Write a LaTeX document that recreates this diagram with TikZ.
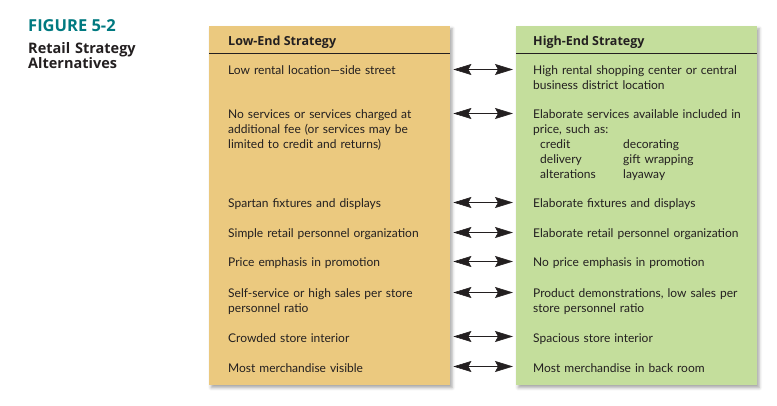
\documentclass[tikz,border=0pt]{standalone}
\usepackage{fontspec}
\setmainfont{Lato}
\newfontfamily\headfont{Open Sans}
\usetikzlibrary{arrows.meta, positioning, calc, shadows.blur}
\definecolor{lowtan}{RGB}{235,201,127}
\definecolor{highgreen}{RGB}{196,222,156}
\definecolor{figteal}{RGB}{0,121,128}
\definecolor{inkgray}{RGB}{35,31,32}

\tikzset{
  panel/.style={anchor=north west, minimum width=241pt, minimum height=359pt, inner sep=0pt,
    blur shadow={shadow xshift=2pt, shadow yshift=-2.5pt, shadow blur radius=3pt, shadow opacity=35}},
  rowtext/.style={anchor=base west, inner sep=0pt, align=left, text width=219pt,
    font=\fontsize{12}{15}\selectfont, text=inkgray},
  headtext/.style={anchor=base west, inner sep=0pt, font=\headfont\bfseries\fontsize{12.5}{15}\selectfont, text=inkgray},
  twoway/.style={{Stealth[length=18pt,width=11pt,inset=3pt]}-{Stealth[length=18pt,width=11pt,inset=3pt]}, semithick, inkgray},
}

\begin{document}
\begin{tikzpicture}[x=1pt, y=-1pt]
  \useasboundingbox (0,0) rectangle (777,406);

  % figure caption
  \node[anchor=base west, inner sep=0pt, font=\headfont\bfseries\fontsize{16.5}{15}\selectfont, text=figteal] (fignum) at (28,32) {FIGURE 5-2};
  \node[anchor=base west, inner sep=0pt, align=left, text width=150pt, font=\headfont\bfseries\fontsize{14.5}{15}\selectfont, text=inkgray] (figtitle) at (28,54) {Retail Strategy\\Alternatives};

  % the two columns
  \node[panel, fill=lowtan] (low) at (209,26) {};
  \node[panel, fill=highgreen] (high) at (516,26) {};
  \draw[inkgray, semithick] ([yshift=-27pt]low.north west) -- ([yshift=-27pt]low.north east);
  \draw[inkgray, semithick] ([yshift=-27pt]high.north west) -- ([yshift=-27pt]high.north east);

  \node[headtext] (lowhead) at (228,46) {Low-End Strategy};
  \node[headtext] (highhead) at (533,46) {High-End Strategy};

  % low-end rows
  \node[rowtext] (l1) at (228,75) {Low rental location—side street};
  \node[rowtext] (l2) at (228,119) {No services or services charged at\\additional fee (or services may be\\limited to credit and returns)};
  \node[rowtext] (l3) at (228,208) {Spartan fixtures and displays};
  \node[rowtext] (l4) at (228,238) {Simple retail personnel organization};
  \node[rowtext] (l5) at (228,267) {Price emphasis in promotion};
  \node[rowtext] (l6) at (228,298) {Self-service or high sales per store\\personnel ratio};
  \node[rowtext] (l7) at (228,342) {Crowded store interior};
  \node[rowtext] (l8) at (228,372) {Most merchandise visible};

  % high-end rows
  \node[rowtext] (r1) at (533,75) {High rental shopping center or central\\business district location};
  \node[rowtext] (r2) at (533,119) {Elaborate services available included in\\price, such as:\\
    \hspace*{7pt}\makebox[83pt][l]{credit}decorating\\
    \hspace*{7pt}\makebox[83pt][l]{delivery}gift wrapping\\
    \hspace*{7pt}\makebox[83pt][l]{alterations}layaway};
  \node[rowtext] (r3) at (533,208) {Elaborate fixtures and displays};
  \node[rowtext] (r4) at (533,238) {Elaborate retail personnel organization};
  \node[rowtext] (r5) at (533,267) {No price emphasis in promotion};
  \node[rowtext] (r6) at (533,298) {Product demonstrations, low sales per\\store personnel ratio};
  \node[rowtext] (r7) at (533,342) {Spacious store interior};
  \node[rowtext] (r8) at (533,372) {Most merchandise in back room};

  % arrows between matching rows
  \foreach \i in {1,...,8}
    \draw[twoway] ($(l\i.base east)+(6,-5.5)$) -- ($(r\i.base west)+(-20,-5.5)$);
\end{tikzpicture}
\end{document}
